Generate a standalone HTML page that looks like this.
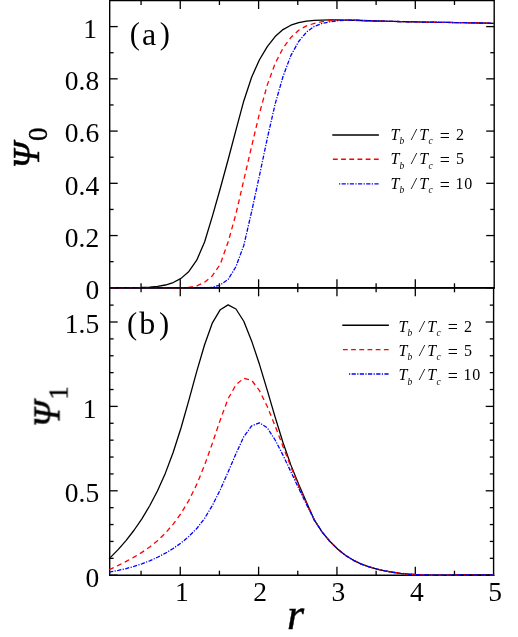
<!DOCTYPE html>
<html><head><meta charset="utf-8"><title>fig</title>
<style>
html,body{margin:0;padding:0;background:#fff;}
body{width:518px;height:637px;overflow:hidden;font-family:"Liberation Serif",serif;}
svg{display:block;font-family:"Liberation Serif",serif;will-change:transform;}
#labels,#legtext{filter:grayscale(1);}
text{fill:#000;}
</style></head><body>
<svg width="518" height="637" viewBox="0 0 518 637">
<rect width="518" height="637" fill="#fff"/>
<g id="axes">
<line x1="109.70" y1="287.80" x2="117.70" y2="287.80" stroke="#000" stroke-width="1.3"/>
<line x1="494.20" y1="287.80" x2="486.20" y2="287.80" stroke="#000" stroke-width="1.3"/>
<line x1="109.70" y1="261.68" x2="113.60" y2="261.68" stroke="#000" stroke-width="1.3"/>
<line x1="494.20" y1="261.68" x2="490.30" y2="261.68" stroke="#000" stroke-width="1.3"/>
<line x1="109.70" y1="235.56" x2="117.70" y2="235.56" stroke="#000" stroke-width="1.3"/>
<line x1="494.20" y1="235.56" x2="486.20" y2="235.56" stroke="#000" stroke-width="1.3"/>
<line x1="109.70" y1="209.44" x2="113.60" y2="209.44" stroke="#000" stroke-width="1.3"/>
<line x1="494.20" y1="209.44" x2="490.30" y2="209.44" stroke="#000" stroke-width="1.3"/>
<line x1="109.70" y1="183.32" x2="117.70" y2="183.32" stroke="#000" stroke-width="1.3"/>
<line x1="494.20" y1="183.32" x2="486.20" y2="183.32" stroke="#000" stroke-width="1.3"/>
<line x1="109.70" y1="157.20" x2="113.60" y2="157.20" stroke="#000" stroke-width="1.3"/>
<line x1="494.20" y1="157.20" x2="490.30" y2="157.20" stroke="#000" stroke-width="1.3"/>
<line x1="109.70" y1="131.08" x2="117.70" y2="131.08" stroke="#000" stroke-width="1.3"/>
<line x1="494.20" y1="131.08" x2="486.20" y2="131.08" stroke="#000" stroke-width="1.3"/>
<line x1="109.70" y1="104.96" x2="113.60" y2="104.96" stroke="#000" stroke-width="1.3"/>
<line x1="494.20" y1="104.96" x2="490.30" y2="104.96" stroke="#000" stroke-width="1.3"/>
<line x1="109.70" y1="78.84" x2="117.70" y2="78.84" stroke="#000" stroke-width="1.3"/>
<line x1="494.20" y1="78.84" x2="486.20" y2="78.84" stroke="#000" stroke-width="1.3"/>
<line x1="109.70" y1="52.72" x2="113.60" y2="52.72" stroke="#000" stroke-width="1.3"/>
<line x1="494.20" y1="52.72" x2="490.30" y2="52.72" stroke="#000" stroke-width="1.3"/>
<line x1="109.70" y1="26.60" x2="117.70" y2="26.60" stroke="#000" stroke-width="1.3"/>
<line x1="494.20" y1="26.60" x2="486.20" y2="26.60" stroke="#000" stroke-width="1.3"/>
<line x1="109.70" y1="575.20" x2="117.70" y2="575.20" stroke="#000" stroke-width="1.3"/>
<line x1="493.70" y1="575.20" x2="485.70" y2="575.20" stroke="#000" stroke-width="1.3"/>
<line x1="109.70" y1="558.32" x2="113.60" y2="558.32" stroke="#000" stroke-width="1.3"/>
<line x1="493.70" y1="558.32" x2="489.80" y2="558.32" stroke="#000" stroke-width="1.3"/>
<line x1="109.70" y1="541.44" x2="113.60" y2="541.44" stroke="#000" stroke-width="1.3"/>
<line x1="493.70" y1="541.44" x2="489.80" y2="541.44" stroke="#000" stroke-width="1.3"/>
<line x1="109.70" y1="524.56" x2="113.60" y2="524.56" stroke="#000" stroke-width="1.3"/>
<line x1="493.70" y1="524.56" x2="489.80" y2="524.56" stroke="#000" stroke-width="1.3"/>
<line x1="109.70" y1="507.68" x2="113.60" y2="507.68" stroke="#000" stroke-width="1.3"/>
<line x1="493.70" y1="507.68" x2="489.80" y2="507.68" stroke="#000" stroke-width="1.3"/>
<line x1="109.70" y1="490.80" x2="117.70" y2="490.80" stroke="#000" stroke-width="1.3"/>
<line x1="493.70" y1="490.80" x2="485.70" y2="490.80" stroke="#000" stroke-width="1.3"/>
<line x1="109.70" y1="473.92" x2="113.60" y2="473.92" stroke="#000" stroke-width="1.3"/>
<line x1="493.70" y1="473.92" x2="489.80" y2="473.92" stroke="#000" stroke-width="1.3"/>
<line x1="109.70" y1="457.04" x2="113.60" y2="457.04" stroke="#000" stroke-width="1.3"/>
<line x1="493.70" y1="457.04" x2="489.80" y2="457.04" stroke="#000" stroke-width="1.3"/>
<line x1="109.70" y1="440.16" x2="113.60" y2="440.16" stroke="#000" stroke-width="1.3"/>
<line x1="493.70" y1="440.16" x2="489.80" y2="440.16" stroke="#000" stroke-width="1.3"/>
<line x1="109.70" y1="423.28" x2="113.60" y2="423.28" stroke="#000" stroke-width="1.3"/>
<line x1="493.70" y1="423.28" x2="489.80" y2="423.28" stroke="#000" stroke-width="1.3"/>
<line x1="109.70" y1="406.40" x2="117.70" y2="406.40" stroke="#000" stroke-width="1.3"/>
<line x1="493.70" y1="406.40" x2="485.70" y2="406.40" stroke="#000" stroke-width="1.3"/>
<line x1="109.70" y1="389.52" x2="113.60" y2="389.52" stroke="#000" stroke-width="1.3"/>
<line x1="493.70" y1="389.52" x2="489.80" y2="389.52" stroke="#000" stroke-width="1.3"/>
<line x1="109.70" y1="372.64" x2="113.60" y2="372.64" stroke="#000" stroke-width="1.3"/>
<line x1="493.70" y1="372.64" x2="489.80" y2="372.64" stroke="#000" stroke-width="1.3"/>
<line x1="109.70" y1="355.76" x2="113.60" y2="355.76" stroke="#000" stroke-width="1.3"/>
<line x1="493.70" y1="355.76" x2="489.80" y2="355.76" stroke="#000" stroke-width="1.3"/>
<line x1="109.70" y1="338.88" x2="113.60" y2="338.88" stroke="#000" stroke-width="1.3"/>
<line x1="493.70" y1="338.88" x2="489.80" y2="338.88" stroke="#000" stroke-width="1.3"/>
<line x1="109.70" y1="322.00" x2="117.70" y2="322.00" stroke="#000" stroke-width="1.3"/>
<line x1="493.70" y1="322.00" x2="485.70" y2="322.00" stroke="#000" stroke-width="1.3"/>
<line x1="109.70" y1="305.12" x2="113.60" y2="305.12" stroke="#000" stroke-width="1.3"/>
<line x1="493.70" y1="305.12" x2="489.80" y2="305.12" stroke="#000" stroke-width="1.3"/>
<line x1="141.07" y1="0.50" x2="141.07" y2="5.00" stroke="#000" stroke-width="1.3"/>
<line x1="141.07" y1="283.30" x2="141.07" y2="292.30" stroke="#000" stroke-width="1.3"/>
<line x1="141.07" y1="575.20" x2="141.07" y2="570.70" stroke="#000" stroke-width="1.3"/>
<line x1="180.25" y1="0.50" x2="180.25" y2="9.00" stroke="#000" stroke-width="1.3"/>
<line x1="180.25" y1="279.30" x2="180.25" y2="296.30" stroke="#000" stroke-width="1.3"/>
<line x1="180.25" y1="575.20" x2="180.25" y2="566.70" stroke="#000" stroke-width="1.3"/>
<line x1="219.43" y1="0.50" x2="219.43" y2="5.00" stroke="#000" stroke-width="1.3"/>
<line x1="219.43" y1="283.30" x2="219.43" y2="292.30" stroke="#000" stroke-width="1.3"/>
<line x1="219.43" y1="575.20" x2="219.43" y2="570.70" stroke="#000" stroke-width="1.3"/>
<line x1="258.60" y1="0.50" x2="258.60" y2="9.00" stroke="#000" stroke-width="1.3"/>
<line x1="258.60" y1="279.30" x2="258.60" y2="296.30" stroke="#000" stroke-width="1.3"/>
<line x1="258.60" y1="575.20" x2="258.60" y2="566.70" stroke="#000" stroke-width="1.3"/>
<line x1="297.77" y1="0.50" x2="297.77" y2="5.00" stroke="#000" stroke-width="1.3"/>
<line x1="297.77" y1="283.30" x2="297.77" y2="292.30" stroke="#000" stroke-width="1.3"/>
<line x1="297.77" y1="575.20" x2="297.77" y2="570.70" stroke="#000" stroke-width="1.3"/>
<line x1="336.95" y1="0.50" x2="336.95" y2="9.00" stroke="#000" stroke-width="1.3"/>
<line x1="336.95" y1="279.30" x2="336.95" y2="296.30" stroke="#000" stroke-width="1.3"/>
<line x1="336.95" y1="575.20" x2="336.95" y2="566.70" stroke="#000" stroke-width="1.3"/>
<line x1="376.12" y1="0.50" x2="376.12" y2="5.00" stroke="#000" stroke-width="1.3"/>
<line x1="376.12" y1="283.30" x2="376.12" y2="292.30" stroke="#000" stroke-width="1.3"/>
<line x1="376.12" y1="575.20" x2="376.12" y2="570.70" stroke="#000" stroke-width="1.3"/>
<line x1="415.30" y1="0.50" x2="415.30" y2="9.00" stroke="#000" stroke-width="1.3"/>
<line x1="415.30" y1="279.30" x2="415.30" y2="296.30" stroke="#000" stroke-width="1.3"/>
<line x1="415.30" y1="575.20" x2="415.30" y2="566.70" stroke="#000" stroke-width="1.3"/>
<line x1="454.48" y1="0.50" x2="454.48" y2="5.00" stroke="#000" stroke-width="1.3"/>
<line x1="454.48" y1="283.30" x2="454.48" y2="292.30" stroke="#000" stroke-width="1.3"/>
<line x1="454.48" y1="575.20" x2="454.48" y2="570.70" stroke="#000" stroke-width="1.3"/>
<line x1="109.70" y1="0.00" x2="109.70" y2="575.90" stroke="#000" stroke-width="1.4"/>
<line x1="494.20" y1="0.00" x2="494.20" y2="287.80" stroke="#000" stroke-width="1.4"/>
<line x1="493.60" y1="287.80" x2="493.60" y2="575.90" stroke="#000" stroke-width="1.4"/>
<line x1="109.00" y1="0.50" x2="494.40" y2="0.50" stroke="#000" stroke-width="1.4"/>
<line x1="109.00" y1="287.80" x2="494.90" y2="287.80" stroke="#000" stroke-width="1.8"/>
<line x1="109.00" y1="575.20" x2="494.40" y2="575.20" stroke="#000" stroke-width="1.4"/>
</g>
<g id="curves">
<path d="M109.70,287.70 L118.34,287.60 L126.18,287.60 L134.02,287.60 L141.86,287.50 L149.70,287.19 L157.54,286.45 L165.38,285.01 L173.22,282.53 L181.06,278.37 L188.90,271.39 L196.74,260.20 L204.58,241.97 L212.42,216.11 L220.26,188.52 L228.10,159.79 L235.94,130.19 L243.78,100.93 L251.62,77.21 L259.46,59.74 L267.30,46.60 L275.14,36.56 L282.98,29.58 L290.82,25.24 L298.66,22.62 L306.50,21.14 L314.34,20.41 L322.18,20.08 L330.02,19.93 L337.86,19.94 L345.70,20.05 L353.54,20.25 L361.38,20.49 L369.22,20.75 L377.06,20.99 L384.90,21.21 L392.74,21.41 L400.58,21.58 L408.42,21.75 L416.26,21.90 L424.10,22.04 L431.94,22.17 L439.78,22.30 L447.62,22.43 L455.46,22.56 L463.30,22.69 L471.14,22.83 L478.98,22.98 L486.82,23.14 L493.70,23.30" fill="none" stroke="#000" stroke-width="1.3" stroke-linejoin="round"/>
<path d="M109.70,287.70 L118.34,287.76 L126.18,287.75 L134.02,287.71 L141.86,287.67 L149.70,287.63 L157.54,287.62 L165.38,287.67 L173.22,287.79 L181.06,287.83 L188.90,287.37 L196.74,285.81 L204.58,282.27 L212.42,275.73 L220.26,264.20 L228.10,242.09 L235.94,213.98 L243.78,180.21 L251.62,146.36 L259.46,113.37 L267.30,84.86 L275.14,63.45 L282.98,48.19 L290.82,37.55 L298.66,30.24 L306.50,25.86 L314.34,23.33 L322.18,21.64 L330.02,20.61 L337.86,20.09 L345.70,20.01 L353.54,20.25 L361.38,20.49 L369.22,20.75 L377.06,20.99 L384.90,21.21 L392.74,21.41 L400.58,21.58 L408.42,21.75 L416.26,21.90 L424.10,22.04 L431.94,22.17 L439.78,22.30 L447.62,22.43 L455.46,22.56 L463.30,22.69 L471.14,22.83 L478.98,22.98 L486.82,23.14 L493.70,23.30" fill="none" stroke="#f00" stroke-width="1.3" stroke-dasharray="5,3.7" stroke-linejoin="round"/>
<path d="M109.70,287.70 L118.34,287.69 L126.18,287.69 L134.02,287.70 L141.86,287.71 L149.70,287.71 L157.54,287.71 L165.38,287.70 L173.22,287.68 L181.06,287.63 L188.90,287.64 L196.74,287.79 L204.58,287.95 L212.42,287.36 L220.26,284.98 L228.10,279.40 L235.94,266.67 L243.78,245.52 L251.62,211.63 L259.46,175.54 L267.30,138.32 L275.14,104.04 L282.98,76.61 L290.82,55.62 L298.66,41.51 L306.50,32.11 L314.34,26.31 L322.18,23.44 L330.02,21.77 L337.86,20.72 L345.70,20.18 L353.54,20.16 L361.38,20.49 L369.22,20.75 L377.06,20.99 L384.90,21.21 L392.74,21.41 L400.58,21.58 L408.42,21.75 L416.26,21.90 L424.10,22.04 L431.94,22.17 L439.78,22.30 L447.62,22.43 L455.46,22.56 L463.30,22.69 L471.14,22.83 L478.98,22.98 L486.82,23.14 L493.70,23.30" fill="none" stroke="#00f" stroke-width="1.3" stroke-dasharray="4.2,1.4,1.2,1.4" stroke-linejoin="round"/>
<path d="M109.10,558.70 L110.50,557.36 L118.34,549.35 L126.18,540.36 L134.02,530.25 L141.86,518.80 L149.70,505.76 L157.54,490.73 L165.38,473.14 L173.22,452.31 L181.06,427.79 L188.90,400.07 L196.74,371.39 L204.58,344.74 L212.42,322.80 L220.26,309.70 L228.10,304.85 L235.94,309.01 L243.78,321.27 L251.62,340.91 L259.46,364.32 L267.30,390.34 L275.14,417.15 L282.98,442.45 L290.82,464.88 L298.66,484.19 L306.50,502.23 L314.34,520.13 L322.18,532.06 L330.02,541.54 L337.86,549.29 L345.70,555.50 L353.54,560.32 L361.38,564.04 L369.22,566.93 L377.06,569.18 L384.90,570.92 L392.74,572.26 L400.58,573.29 L408.42,574.04 L416.26,574.57 L424.10,574.90 L431.94,575.08 L439.78,575.13 L447.62,575.10 L455.46,575.02 L463.30,574.93 L471.14,574.86 L478.98,574.84 L486.82,574.92 L493.70,575.10" fill="none" stroke="#000" stroke-width="1.3" stroke-linejoin="round"/>
<path d="M109.10,569.70 L110.50,569.05 L118.34,565.34 L126.18,561.41 L134.02,557.15 L141.86,552.41 L149.70,547.01 L157.54,540.66 L165.38,533.10 L173.22,524.09 L181.06,513.33 L188.90,500.32 L196.74,484.41 L204.58,465.17 L212.42,443.13 L220.26,419.93 L228.10,398.68 L235.94,384.87 L243.78,378.24 L251.62,380.20 L259.46,390.52 L267.30,406.56 L275.14,425.99 L282.98,446.45 L290.82,466.65 L298.66,486.14 L306.50,503.23 L314.34,520.13 L322.18,532.06 L330.02,541.54 L337.86,549.29 L345.70,555.50 L353.54,560.32 L361.38,564.04 L369.22,566.93 L377.06,569.18 L384.90,570.92 L392.74,572.26 L400.58,573.29 L408.42,574.04 L416.26,574.57 L424.10,574.90 L431.94,575.08 L439.78,575.13 L447.62,575.10 L455.46,575.02 L463.30,574.93 L471.14,574.86 L478.98,574.84 L486.82,574.92 L493.70,575.10" fill="none" stroke="#f00" stroke-width="1.3" stroke-dasharray="5,3.7" stroke-linejoin="round"/>
<path d="M109.10,572.10 L110.50,571.87 L118.34,570.40 L126.18,568.58 L134.02,566.40 L141.86,563.81 L149.70,560.79 L157.54,557.27 L165.38,553.20 L173.22,548.46 L181.06,542.94 L188.90,536.43 L196.74,528.54 L204.58,518.39 L212.42,505.37 L220.26,489.75 L228.10,472.05 L235.94,453.84 L243.78,436.73 L251.62,425.92 L259.46,422.83 L267.30,427.85 L275.14,440.02 L282.98,455.16 L290.82,471.62 L298.66,488.26 L306.50,504.44 L314.34,519.89 L322.18,532.06 L330.02,541.54 L337.86,549.29 L345.70,555.50 L353.54,560.32 L361.38,564.04 L369.22,566.93 L377.06,569.18 L384.90,570.92 L392.74,572.26 L400.58,573.29 L408.42,574.04 L416.26,574.57 L424.10,574.90 L431.94,575.08 L439.78,575.13 L447.62,575.10 L455.46,575.02 L463.30,574.93 L471.14,574.86 L478.98,574.84 L486.82,574.92 L493.70,575.10" fill="none" stroke="#00f" stroke-width="1.3" stroke-dasharray="4.2,1.4,1.2,1.4" stroke-linejoin="round"/>
</g>
<line x1="109.00" y1="287.80" x2="494.90" y2="287.80" stroke="#000" stroke-opacity="0.62" stroke-width="1.8"/>
<g id="labels">
<text x="97.0" y="37.9" font-size="27.5" text-anchor="end"  >1</text><text x="99.2" y="90.1" font-size="27.5" text-anchor="end"  >0.8</text><text x="99.2" y="142.4" font-size="27.5" text-anchor="end"  >0.6</text><text x="99.2" y="194.6" font-size="27.5" text-anchor="end"  >0.4</text><text x="99.2" y="246.9" font-size="27.5" text-anchor="end"  >0.2</text><text x="99.2" y="299.1" font-size="27.5" text-anchor="end"  >0</text><text x="99.2" y="333.3" font-size="27.5" text-anchor="end"  >1.5</text><text x="96.4" y="417.7" font-size="27.5" text-anchor="end"  >1</text><text x="99.2" y="502.1" font-size="27.5" text-anchor="end"  >0.5</text><text x="99.2" y="586.5" font-size="27.5" text-anchor="end"  >0</text><text x="181.8" y="601.0" font-size="27.5" text-anchor="middle"  >1</text><text x="260.1" y="601.0" font-size="27.5" text-anchor="middle"  >2</text><text x="338.4" y="601.0" font-size="27.5" text-anchor="middle"  >3</text><text x="416.8" y="601.0" font-size="27.5" text-anchor="middle"  >4</text><text x="495.1" y="601.0" font-size="27.5" text-anchor="middle"  >5</text><text x="129.7" y="44.4" font-size="30.5" text-anchor="start"  >(</text><text x="142.0" y="45.0" font-size="32" text-anchor="start"  >a</text><text x="159.8" y="44.4" font-size="30.5" text-anchor="start"  >)</text><text x="126.9" y="333.8" font-size="30.5" text-anchor="start"  >(</text><text x="139.2" y="334.4" font-size="32" text-anchor="start"  >b</text><text x="159.0" y="333.8" font-size="30.5" text-anchor="start"  >)</text><text x="295.5" y="629.1" font-size="44" text-anchor="middle" font-style="italic" stroke="#000" stroke-width="0.45" >r</text><g transform="translate(39,169) rotate(-90)"><text x="0.4" y="0.0" font-size="37" text-anchor="start" font-style="italic" stroke="#000" stroke-width="0.45" >Ψ</text><text x="28.0" y="8.0" font-size="27" text-anchor="start" stroke="#000" stroke-width="0.35" >0</text></g><g transform="translate(59.5,427.7) rotate(-90)"><text x="0.4" y="0.0" font-size="37" text-anchor="start" font-style="italic" stroke="#000" stroke-width="0.45" >Ψ</text><text x="28.0" y="8.0" font-size="27" text-anchor="start" stroke="#000" stroke-width="0.35" >1</text></g>
</g>
<g id="leglines">
<line x1="332.3" y1="135.0" x2="378.9" y2="135.0" stroke="#000" stroke-width="1.4"/>
<line x1="332.90000000000003" y1="159.3" x2="378.9" y2="159.3" stroke="#f00" stroke-width="1.4" stroke-dasharray="4.8,3.4"/>
<line x1="339.0" y1="183.9" x2="378.9" y2="183.9" stroke="#00f" stroke-width="1.4" stroke-dasharray="4.2,1.4,1.2,1.4" stroke-dashoffset="5.6"/>
<line x1="342.3" y1="325.3" x2="388.9" y2="325.3" stroke="#000" stroke-width="1.4"/>
<line x1="342.90000000000003" y1="349.6" x2="388.9" y2="349.6" stroke="#f00" stroke-width="1.4" stroke-dasharray="4.8,3.4"/>
<line x1="349.0" y1="374.0" x2="388.9" y2="374.0" stroke="#00f" stroke-width="1.4" stroke-dasharray="4.2,1.4,1.2,1.4" stroke-dashoffset="5.6"/>
</g>
<g id="legtext">
<text x="390.5" y="139.7" font-size="16" text-anchor="start" font-style="italic" >T</text>
<text x="399.4" y="144.2" font-size="9.5" text-anchor="start" font-style="italic" >b</text>
<text x="411.5" y="139.7" font-size="16" text-anchor="start" font-style="italic" >/</text>
<text x="419.2" y="139.7" font-size="16" text-anchor="start" font-style="italic" >T</text>
<text x="428.4" y="144.2" font-size="9.5" text-anchor="start" font-style="italic" >c</text>
<text x="439.7" y="141.6" font-size="18" text-anchor="start"  >=</text>
<text x="456.1" y="139.7" font-size="16" text-anchor="start"  >2</text>
<text x="390.5" y="164.0" font-size="16" text-anchor="start" font-style="italic" >T</text>
<text x="399.4" y="168.5" font-size="9.5" text-anchor="start" font-style="italic" >b</text>
<text x="411.5" y="164.0" font-size="16" text-anchor="start" font-style="italic" >/</text>
<text x="419.2" y="164.0" font-size="16" text-anchor="start" font-style="italic" >T</text>
<text x="428.4" y="168.5" font-size="9.5" text-anchor="start" font-style="italic" >c</text>
<text x="439.7" y="165.9" font-size="18" text-anchor="start"  >=</text>
<text x="456.1" y="164.0" font-size="16" text-anchor="start"  >5</text>
<text x="390.5" y="188.6" font-size="16" text-anchor="start" font-style="italic" >T</text>
<text x="399.4" y="193.1" font-size="9.5" text-anchor="start" font-style="italic" >b</text>
<text x="411.5" y="188.6" font-size="16" text-anchor="start" font-style="italic" >/</text>
<text x="419.2" y="188.6" font-size="16" text-anchor="start" font-style="italic" >T</text>
<text x="428.4" y="193.1" font-size="9.5" text-anchor="start" font-style="italic" >c</text>
<text x="439.7" y="190.5" font-size="18" text-anchor="start"  >=</text>
<text x="455.4" y="188.6" font-size="16" text-anchor="start"  >1</text>
<text x="464.2" y="188.6" font-size="16" text-anchor="start"  >0</text>
<text x="398.5" y="331.5" font-size="16" text-anchor="start" font-style="italic" >T</text>
<text x="407.4" y="336.0" font-size="9.5" text-anchor="start" font-style="italic" >b</text>
<text x="419.5" y="331.5" font-size="16" text-anchor="start" font-style="italic" >/</text>
<text x="427.2" y="331.5" font-size="16" text-anchor="start" font-style="italic" >T</text>
<text x="436.4" y="336.0" font-size="9.5" text-anchor="start" font-style="italic" >c</text>
<text x="447.7" y="333.4" font-size="18" text-anchor="start"  >=</text>
<text x="464.1" y="331.5" font-size="16" text-anchor="start"  >2</text>
<text x="398.5" y="355.8" font-size="16" text-anchor="start" font-style="italic" >T</text>
<text x="407.4" y="360.3" font-size="9.5" text-anchor="start" font-style="italic" >b</text>
<text x="419.5" y="355.8" font-size="16" text-anchor="start" font-style="italic" >/</text>
<text x="427.2" y="355.8" font-size="16" text-anchor="start" font-style="italic" >T</text>
<text x="436.4" y="360.3" font-size="9.5" text-anchor="start" font-style="italic" >c</text>
<text x="447.7" y="357.7" font-size="18" text-anchor="start"  >=</text>
<text x="464.1" y="355.8" font-size="16" text-anchor="start"  >5</text>
<text x="398.5" y="380.2" font-size="16" text-anchor="start" font-style="italic" >T</text>
<text x="407.4" y="384.7" font-size="9.5" text-anchor="start" font-style="italic" >b</text>
<text x="419.5" y="380.2" font-size="16" text-anchor="start" font-style="italic" >/</text>
<text x="427.2" y="380.2" font-size="16" text-anchor="start" font-style="italic" >T</text>
<text x="436.4" y="384.7" font-size="9.5" text-anchor="start" font-style="italic" >c</text>
<text x="447.7" y="382.1" font-size="18" text-anchor="start"  >=</text>
<text x="463.4" y="380.2" font-size="16" text-anchor="start"  >1</text>
<text x="472.2" y="380.2" font-size="16" text-anchor="start"  >0</text>
</g>
</svg>
</body></html>
